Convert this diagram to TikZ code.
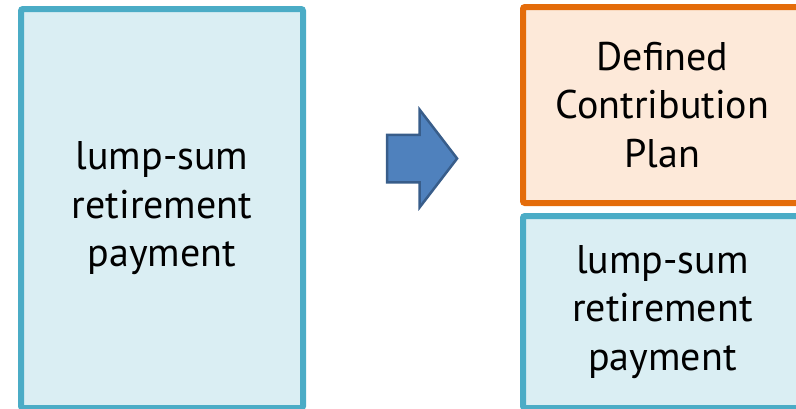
\documentclass[tikz,border=0pt]{standalone}
\usepackage{fontspec}
\setmainfont{PT Sans}
\usetikzlibrary{shapes.arrows}
\definecolor{boxblue}{RGB}{218,238,243}
\definecolor{lineblue}{RGB}{75,172,198}
\definecolor{boxorange}{RGB}{253,233,217}
\definecolor{lineorange}{RGB}{228,108,10}
\definecolor{arrowfill}{RGB}{79,129,189}
\definecolor{arrowline}{RGB}{56,93,138}
\tikzstyle{payment}=[draw=lineblue, fill=boxblue, line width=6pt, rounded corners=2pt,
  align=center, inner sep=0pt, font=\fontsize{40}{48.5}\selectfont]
\tikzstyle{plan}=[payment, draw=lineorange, fill=boxorange]
\tikzstyle{blockarrow}=[single arrow, draw=arrowline, fill=arrowfill, line width=2.5pt,
  inner xsep=0pt, inner ysep=22.5pt, minimum width=95pt, minimum height=70pt,
  single arrow head extend=25pt, single arrow tip angle=105]

\begin{document}
\begin{tikzpicture}[x=1pt, y=-1pt]
\useasboundingbox (0,0) rectangle (796,408);
\clip (0,0) rectangle (796,408);
% Before
    \node[payment, minimum width=282pt, minimum height=399pt] (lumpleft) at (162,208.5)
      {lump-sum\\retirement\\payment};
% Arrow
    \node[blockarrow] (arrow) at (413,158.5) {};
% After
    \node[plan, minimum width=279pt, minimum height=196pt] (dcplan) at (662.5,105)
      {Defined\\Contribution\\Plan};
    \node[payment, minimum width=279pt, minimum height=192pt] (lumpright) at (662.5,312)
      {lump-sum\\retirement\\payment};
\end{tikzpicture}
\end{document}
